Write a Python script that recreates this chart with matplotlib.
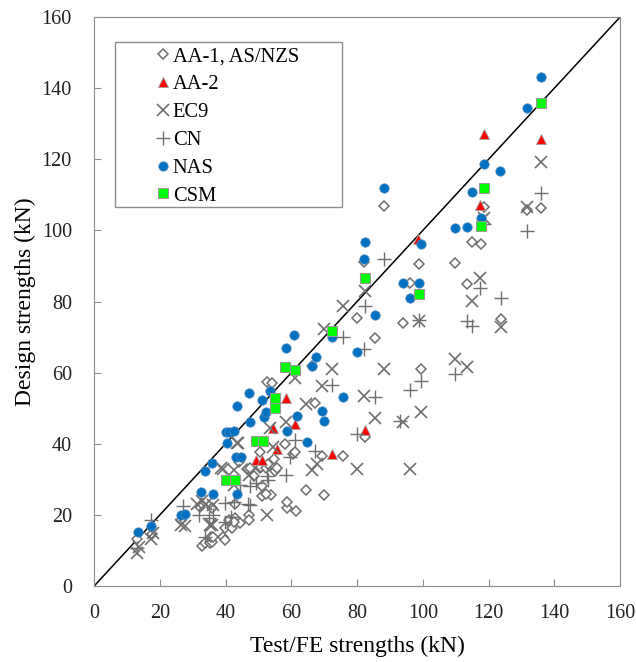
import matplotlib.pyplot as plt
from matplotlib.patches import Rectangle

plt.rcParams['font.family'] = ['Liberation Serif', 'DejaVu Serif']

# Test/FE strength (x) vs design strength (y), kN
aa1_x = [12.9, 17.5, 26.5, 32.9, 33.8, 35.2, 35.8, 35.5, 36.3, 39.3, 39.7, 39.8, 41.9, 40.9, 42.9,
         44.4, 42.7, 47.2, 47.2, 32.2, 51.1, 53.7, 51.0, 52.3, 58.7, 58.6, 61.3, 64.5, 69.8, 46.6,
         47.5, 48.7, 50.5, 50.8, 52.3, 52.9, 54.7, 55.0, 55.6, 50.5, 58.2, 60.6, 61.1, 69.2, 75.8,
         67.1, 66.3, 52.6, 54.0, 82.4, 80.0, 85.5, 88.3, 94.0, 96.1, 98.7, 99.5, 109.8, 113.5,
         114.9, 117.7, 118.7, 123.7, 131.7, 136.0, 82.2, 36.0, 43.0, 44.0]
aa1_y = [13.3, 14.5, 18.5, 11.3, 12.0, 12.2, 12.5, 13.8, 13.9, 13.9, 13.0, 16.2, 16.2, 18.6, 19.1,
         17.8, 18.0, 20.0, 18.7, 22.3, 25.4, 25.7, 28.0, 26.0, 21.9, 23.7, 21.0, 27.0, 25.7, 32.9,
         33.2, 30.8, 33.2, 33.5, 33.2, 34.3, 35.6, 32.4, 33.2, 37.8, 40.0, 37.0, 37.8, 36.5, 36.5,
         51.6, 61.9, 57.3, 57.0, 41.9, 75.3, 69.8, 106.9, 74.0, 85.3, 90.5, 61.1, 90.8, 84.9,
         96.7, 96.2, 106.5, 75.1, 105.6, 106.2, 91.0, 22.0, 23.0, 35.0]

aa2_x = [49.3, 51.0, 54.5, 55.6, 58.3, 61.1, 72.5, 82.4, 98.4, 117.5, 118.5, 136.0]
aa2_y = [35.3, 35.3, 44.4, 38.5, 53.0, 45.6, 37.0, 43.8, 97.7, 107.0, 127.2, 125.6]

ec9_x = [12.9, 13.5, 17.3, 18.0, 26.3, 27.6, 31.3, 32.9, 34.0, 35.2, 35.8, 36.3, 38.7, 39.3, 42.4,
         42.4, 43.4, 43.9, 47.1, 52.6, 53.5, 54.3, 58.5, 61.1, 64.5, 66.3, 67.7, 69.3, 69.8, 72.5,
         75.8, 80.0, 82.1, 82.4, 85.5, 88.3, 94.0, 96.1, 98.7, 99.5, 109.8, 113.5, 114.9, 117.5,
         118.7, 123.7, 131.7, 136.0]
ec9_y = [9.2, 11.0, 13.3, 15.0, 17.1, 17.0, 23.0, 23.9, 23.0, 17.1, 17.2, 22.8, 33.3, 32.9, 32.5,
         28.4, 40.3, 40.2, 31.1, 20.1, 44.4, 39.2, 46.2, 58.6, 51.1, 32.7, 34.3, 56.2, 72.4, 61.1,
         78.6, 33.0, 53.5, 82.9, 47.3, 61.1, 46.0, 33.0, 74.6, 48.9, 63.8, 61.6, 80.2, 86.7,
         103.5, 72.7, 106.7, 119.3]

cn_x = [12.9, 17.3, 27.1, 31.8, 33.8, 35.0, 36.1, 39.7, 39.8, 42.4, 41.5, 44.5, 46.9, 47.5, 47.5,
        49.2, 52.6, 53.0, 58.5, 59.6, 61.1, 67.1, 72.5, 75.8, 80.0, 82.1, 82.4, 85.5, 88.3, 93.0,
        96.1, 98.7, 99.5, 109.8, 113.5, 114.9, 117.5, 118.7, 123.7, 131.7, 136.0]
cn_y = [10.6, 18.7, 22.5, 20.0, 13.9, 19.2, 20.0, 18.1, 23.3, 23.5, 19.5, 28.4, 23.0, 22.8, 28.0,
        28.9, 30.8, 29.9, 31.1, 36.4, 41.1, 38.1, 56.5, 70.0, 42.7, 66.7, 78.6, 53.2, 91.9, 46.5,
        55.1, 74.8, 57.6, 59.7, 74.6, 73.0, 83.8, 101.8, 81.0, 99.9, 110.5]

nas_x = [13.4, 17.3, 26.5, 27.7, 32.4, 36.1, 33.6, 35.8, 43.6, 40.4, 40.2, 40.9, 42.4, 43.2, 44.7,
         43.6, 47.5, 47.0, 51.1, 51.8, 52.2, 53.6, 58.8, 58.4, 60.7, 61.6, 64.7, 66.2, 67.4, 69.4,
         69.8, 72.5, 75.8, 80.0, 82.4, 82.2, 85.5, 88.3, 94.0, 96.0, 98.7, 99.5, 109.8, 113.5,
         114.9, 117.7, 118.5, 123.6, 131.7, 136.0]
nas_y = [15.2, 16.8, 20.0, 20.3, 26.3, 25.9, 32.2, 34.6, 25.9, 40.2, 43.3, 43.3, 43.5, 36.3, 36.3,
         50.5, 46.0, 54.3, 52.2, 47.5, 49.0, 54.9, 43.5, 67.0, 70.7, 47.9, 40.6, 62.0, 64.5, 49.2,
         46.5, 70.0, 53.2, 65.9, 96.7, 91.9, 76.2, 112.0, 85.3, 81.0, 85.3, 96.2, 100.6, 101.0,
         110.8, 103.6, 118.6, 116.7, 134.3, 143.1]

csm_x = [40.0, 42.9, 49.3, 51.3, 55.0, 55.1, 58.2, 61.0, 72.5, 82.4, 98.9, 117.7, 118.5, 136.0]
csm_y = [29.9, 29.9, 40.9, 40.9, 50.0, 53.0, 61.6, 60.8, 71.8, 86.7, 82.1, 101.1, 112.0, 135.7]

fig = plt.figure(figsize=(6.36, 6.62), dpi=100)
ax = fig.add_axes([0.148, 0.1148, 0.827, 0.8595])

grey = '#6e6e6e'
ax.plot([0, 160], [0, 160], color='black', lw=1.1, zorder=1)
ax.plot(aa1_x, aa1_y, 'D', ms=5.2, mfc='white', mec=grey, mew=1.1, ls='none', label='AA-1, AS/NZS', zorder=2)
ax.plot(aa2_x, aa2_y, '^', ms=6.5, mfc='red', mec='#a0a0a0', mew=0.6, ls='none', label='AA-2', zorder=3)
ax.plot(ec9_x, ec9_y, 'x', ms=8.5, mec=grey, mew=1.2, ls='none', label='EC9', zorder=3)
ax.plot(cn_x, cn_y, '+', ms=9.5, mec=grey, mew=1.0, ls='none', label='CN', zorder=3)
ax.plot(nas_x, nas_y, 'o', ms=6.8, mfc='#0070C0', mec='#5a8fc0', mew=0.5, ls='none', label='NAS', zorder=4)
ax.plot(csm_x, csm_y, 's', ms=6.8, mfc='#00FF00', mec='#9a9a9a', mew=0.8, ls='none', label='CSM', zorder=5)

ax.set_xlim(0, 160)
ax.set_ylim(0, 160)
ax.set_xticks(range(0, 161, 20))
ax.set_yticks(range(0, 161, 20))
ax.tick_params(direction='in', length=5, color='#8c8c8c', labelsize=14.5, labelcolor='#222222')
ax.tick_params(axis='y', pad=16)
ax.tick_params(axis='x', pad=13)
for s in ax.spines.values():
    s.set_color('#8c8c8c')

ax.set_xlabel('Test/FE strengths (kN)', fontsize=17, labelpad=9)
ax.set_ylabel('Design strengths (kN)', fontsize=17, labelpad=4)

# legend box drawn separately so the markers sit well inside the frame
ax.add_patch(Rectangle((0.040, 0.666), 0.4315, 0.290, transform=ax.transAxes, fill=False,
                       edgecolor='#8c8c8c', lw=1, zorder=6))
ax.legend(loc='upper left', bbox_to_anchor=(0.0837, 0.976), frameon=False, fontsize=14.8,
          handlelength=0.8, handletextpad=0.09, labelspacing=0.41, borderpad=0.3)

plt.savefig('out.png', dpi=100)
